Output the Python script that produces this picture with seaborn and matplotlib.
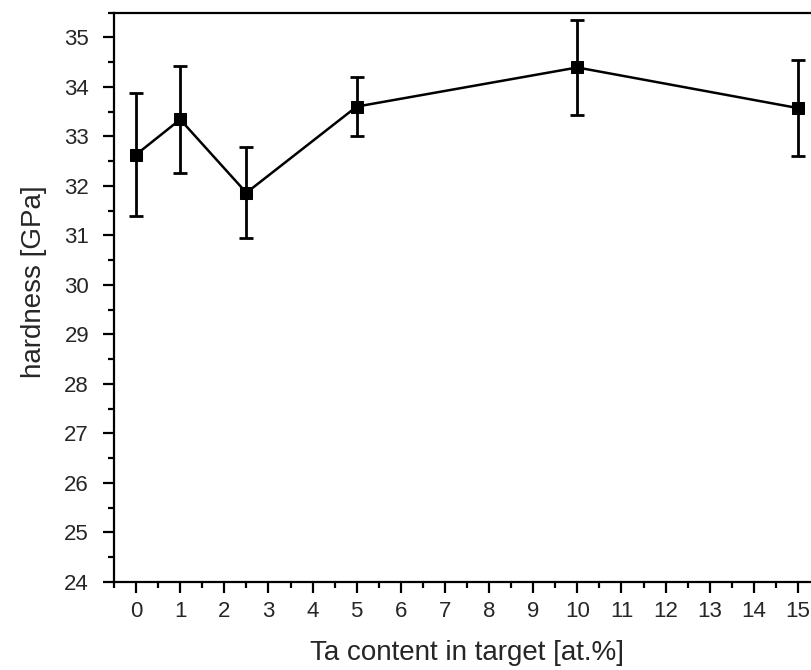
import numpy as np
import pandas as pd
import matplotlib
matplotlib.use('Agg')
import matplotlib.pyplot as plt
import seaborn as sns
from matplotlib.ticker import MultipleLocator

ta_content = [0, 1, 2.5, 5, 10, 15]
hardness = [32.63, 33.34, 31.86, 33.60, 34.39, 33.57]
hardness_err = [1.24, 1.08, 0.92, 0.59, 0.96, 0.97]

df = pd.DataFrame({'ta': ta_content, 'hardness': hardness, 'err': hardness_err})

sns.set_style('ticks')
plt.rcParams['font.family'] = ['Liberation Sans', 'DejaVu Sans']

fig = plt.figure(figsize=(8.11, 6.7), dpi=100)
ax = fig.add_axes([114 / 811, 88 / 670, 706 / 811, 569.5 / 670])

ax.errorbar(df['ta'], df['hardness'], yerr=df['err'], fmt='none',
            ecolor='black', elinewidth=2, capsize=5, capthick=2, zorder=2)
sns.lineplot(data=df, x='ta', y='hardness', ax=ax, color='black', linewidth=1.8,
             marker='s', markersize=9, markeredgecolor='black', zorder=3)

ax.set_xlim(-0.5, 15.5)
ax.set_ylim(24, 35.5)
ax.xaxis.set_major_locator(MultipleLocator(1))
ax.xaxis.set_minor_locator(MultipleLocator(0.5))
ax.yaxis.set_major_locator(MultipleLocator(1))
ax.yaxis.set_minor_locator(MultipleLocator(0.5))

for side in ['left', 'bottom', 'top', 'right']:
    ax.spines[side].set_linewidth(1.6)
    ax.spines[side].set_color('black')

ax.tick_params(axis='both', which='major', length=8, width=1.6, labelsize=16, color='black')
ax.tick_params(axis='both', which='minor', length=4.3, width=1.6, color='black')
ax.tick_params(axis='x', which='major', pad=6)
ax.tick_params(axis='y', which='major', pad=10)
ax.tick_params(top=False, right=False, which='both')

ax.set_xlabel('Ta content in target [at.%]', fontsize=20)
ax.set_ylabel('hardness [GPa]', fontsize=20)
ax.xaxis.set_label_coords(0.5, -0.102)
ax.yaxis.label.set_va('center')
ax.yaxis.set_label_coords(-0.113, 0.527)

fig.savefig('out.png', dpi=100)
